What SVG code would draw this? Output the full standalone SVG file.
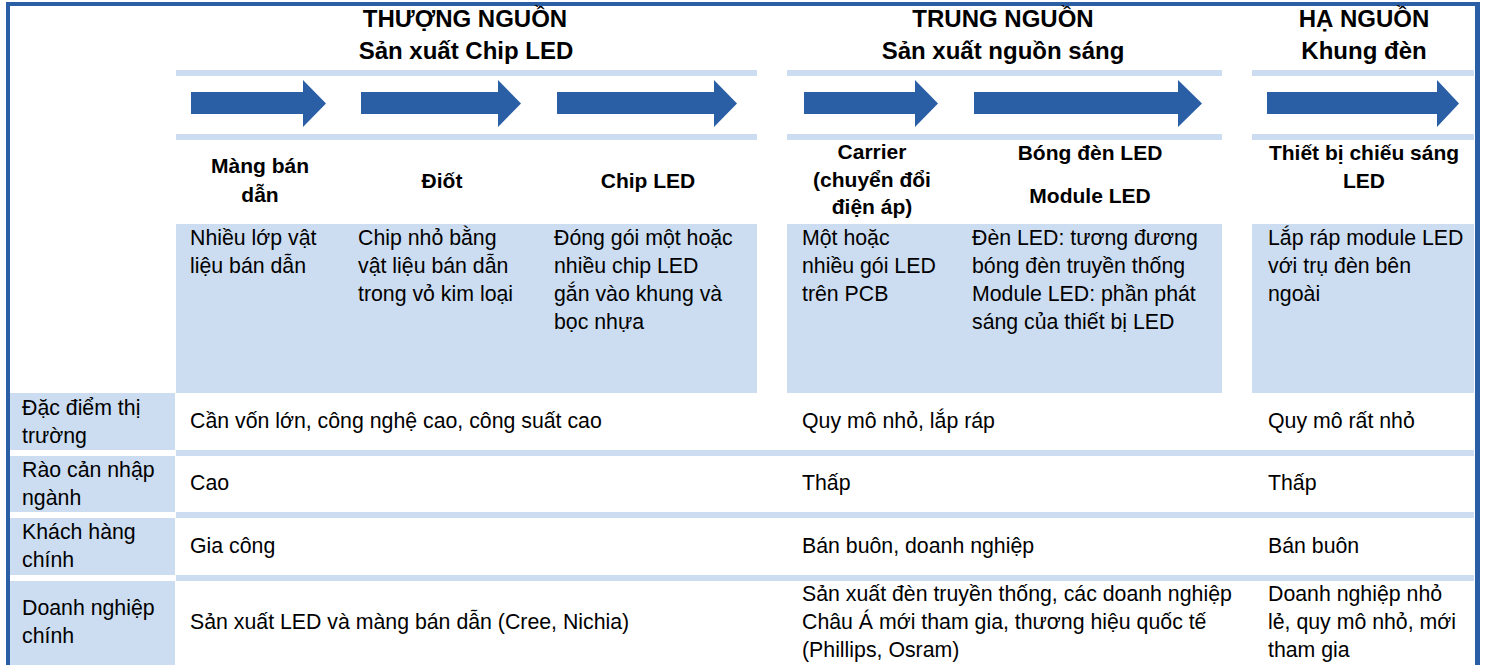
<svg xmlns="http://www.w3.org/2000/svg" width="1485" height="665" viewBox="0 0 1485 665">
<style>
.lb{fill:#CCDDF1}
.db{fill:#2A5FA6}
.h{font-family:"Liberation Sans",Arial,sans-serif;font-weight:bold;font-size:24px;fill:#000;text-anchor:middle}
.c{font-family:"Liberation Sans",Arial,sans-serif;font-weight:bold;font-size:21px;fill:#000;text-anchor:middle}
.t{font-family:"Liberation Sans",Arial,sans-serif;font-size:21.3px;fill:#000}
</style>
<rect width="1485" height="665" fill="#fff"/>
<g id="frame">
<rect class="db" x="6" y="2" width="1474" height="4"/>
<rect class="db" x="6" y="2" width="4" height="663"/>
<rect class="db" x="1475" y="2" width="5" height="663"/>
</g>
<g id="bands">
<rect class="lb" x="176" y="70" width="581" height="6"/>
<rect class="lb" x="176" y="134" width="581" height="6"/>
<rect class="lb" x="787" y="70" width="435" height="6"/>
<rect class="lb" x="787" y="134" width="435" height="6"/>
<rect class="lb" x="1252" y="70" width="222" height="6"/>
<rect class="lb" x="1252" y="134" width="222" height="6"/>
<rect class="lb" x="176" y="224" width="581" height="169"/>
<rect class="lb" x="787" y="224" width="435" height="169"/>
<rect class="lb" x="1252" y="224" width="222" height="169"/>
<rect class="lb" x="176" y="450" width="1298" height="6"/>
<rect class="lb" x="176" y="512" width="1298" height="6"/>
<rect class="lb" x="176" y="575" width="1298" height="6"/>
</g>
<g id="connectors">
<polygon class="db" points="191,92 303,92 303,80 326,103.5 303,127 303,114 191,114"/>
<polygon class="db" points="361,92 498,92 498,80 521,103.5 498,127 498,114 361,114"/>
<polygon class="db" points="557,92 714,92 714,80 737,103.5 714,127 714,114 557,114"/>
<polygon class="db" points="804,92 915,92 915,80 938,103.5 915,127 915,114 804,114"/>
<polygon class="db" points="974,92 1178,92 1178,80 1202,103.5 1178,127 1178,114 974,114"/>
<polygon class="db" points="1267,92 1437,92 1437,80 1459,103.5 1437,127 1437,114 1267,114"/>
</g>
<g id="stage-upstream">
<text class="h" x="465" y="27">THƯỢNG NGUỒN</text>
<text class="h" x="466" y="59">Sản xuất Chip LED</text>
</g>
<g id="stage-midstream">
<text class="h" x="1003" y="27">TRUNG NGUỒN</text>
<text class="h" x="1003" y="59">Sản xuất nguồn sáng</text>
</g>
<g id="stage-downstream">
<text class="h" x="1364" y="27">HẠ NGUỒN</text>
<text class="h" x="1364" y="59">Khung đèn</text>
</g>
<g id="node-mang-ban-dan">
<text class="c" x="260" y="173">Màng bán</text>
<text class="c" x="260" y="202">dẫn</text>
<text class="t" x="190" y="245">Nhiều lớp vật</text>
<text class="t" x="190" y="273">liệu bán dẫn</text>
</g>
<g id="node-diot">
<text class="c" x="442" y="188">Điốt</text>
<text class="t" x="358" y="245">Chip nhỏ bằng</text>
<text class="t" x="358" y="273">vật liệu bán dẫn</text>
<text class="t" x="358" y="301">trong vỏ kim loại</text>
</g>
<g id="node-chip-led">
<text class="c" x="648" y="188">Chip LED</text>
<text class="t" x="554" y="245">Đóng gói một hoặc</text>
<text class="t" x="554" y="273">nhiều chip LED</text>
<text class="t" x="554" y="301">gắn vào khung và</text>
<text class="t" x="554" y="329">bọc nhựa</text>
</g>
<g id="node-carrier">
<text class="c" x="872" y="159">Carrier</text>
<text class="c" x="872" y="187">(chuyển đổi</text>
<text class="c" x="872" y="214">điện áp)</text>
<text class="t" x="802" y="245">Một hoặc</text>
<text class="t" x="802" y="273">nhiều gói LED</text>
<text class="t" x="802" y="301">trên PCB</text>
</g>
<g id="node-bong-den">
<text class="c" x="1090" y="160">Bóng đèn LED</text>
<text class="c" x="1090" y="203">Module LED</text>
<text class="t" x="972" y="245">Đèn LED: tương đương</text>
<text class="t" x="972" y="273">bóng đèn truyền thống</text>
<text class="t" x="972" y="301">Module LED: phần phát</text>
<text class="t" x="972" y="329">sáng của thiết bị LED</text>
</g>
<g id="node-thiet-bi">
<text class="c" x="1364" y="160">Thiết bị chiếu sáng</text>
<text class="c" x="1364" y="188">LED</text>
<text class="t" x="1268" y="245">Lắp ráp module LED</text>
<text class="t" x="1268" y="273">với trụ đèn bên</text>
<text class="t" x="1268" y="301">ngoài</text>
</g>
<g id="row-dac-diem">
<rect class="lb" x="10" y="393" width="165" height="57"/>
<text class="t" x="22" y="415">Đặc điểm thị</text>
<text class="t" x="22" y="443">trường</text>
<text class="t" x="190" y="428">Cần vốn lớn, công nghệ cao, công suất cao</text>
<text class="t" x="802" y="428">Quy mô nhỏ, lắp ráp</text>
<text class="t" x="1268" y="428">Quy mô rất nhỏ</text>
</g>
<g id="row-rao-can">
<rect class="lb" x="10" y="456" width="165" height="56"/>
<text class="t" x="22" y="477">Rào cản nhập</text>
<text class="t" x="22" y="505">ngành</text>
<text class="t" x="190" y="490">Cao</text>
<text class="t" x="802" y="490">Thấp</text>
<text class="t" x="1268" y="490">Thấp</text>
</g>
<g id="row-khach-hang">
<rect class="lb" x="10" y="518" width="165" height="57"/>
<text class="t" x="22" y="539">Khách hàng</text>
<text class="t" x="22" y="567">chính</text>
<text class="t" x="190" y="553">Gia công</text>
<text class="t" x="802" y="553">Bán buôn, doanh nghiệp</text>
<text class="t" x="1268" y="553">Bán buôn</text>
</g>
<g id="row-doanh-nghiep">
<rect class="lb" x="10" y="581" width="165" height="84"/>
<text class="t" x="22" y="615">Doanh nghiệp</text>
<text class="t" x="22" y="643">chính</text>
<text class="t" x="190" y="629">Sản xuất LED và màng bán dẫn (Cree, Nichia)</text>
<text class="t" x="802" y="601">Sản xuất đèn truyền thống, các doanh nghiệp</text>
<text class="t" x="802" y="629">Châu Á mới tham gia, thương hiệu quốc tế</text>
<text class="t" x="802" y="657">(Phillips, Osram)</text>
<text class="t" x="1268" y="601">Doanh nghiệp nhỏ</text>
<text class="t" x="1268" y="629">lẻ, quy mô nhỏ, mới</text>
<text class="t" x="1268" y="657">tham gia</text>
</g>
</svg>
